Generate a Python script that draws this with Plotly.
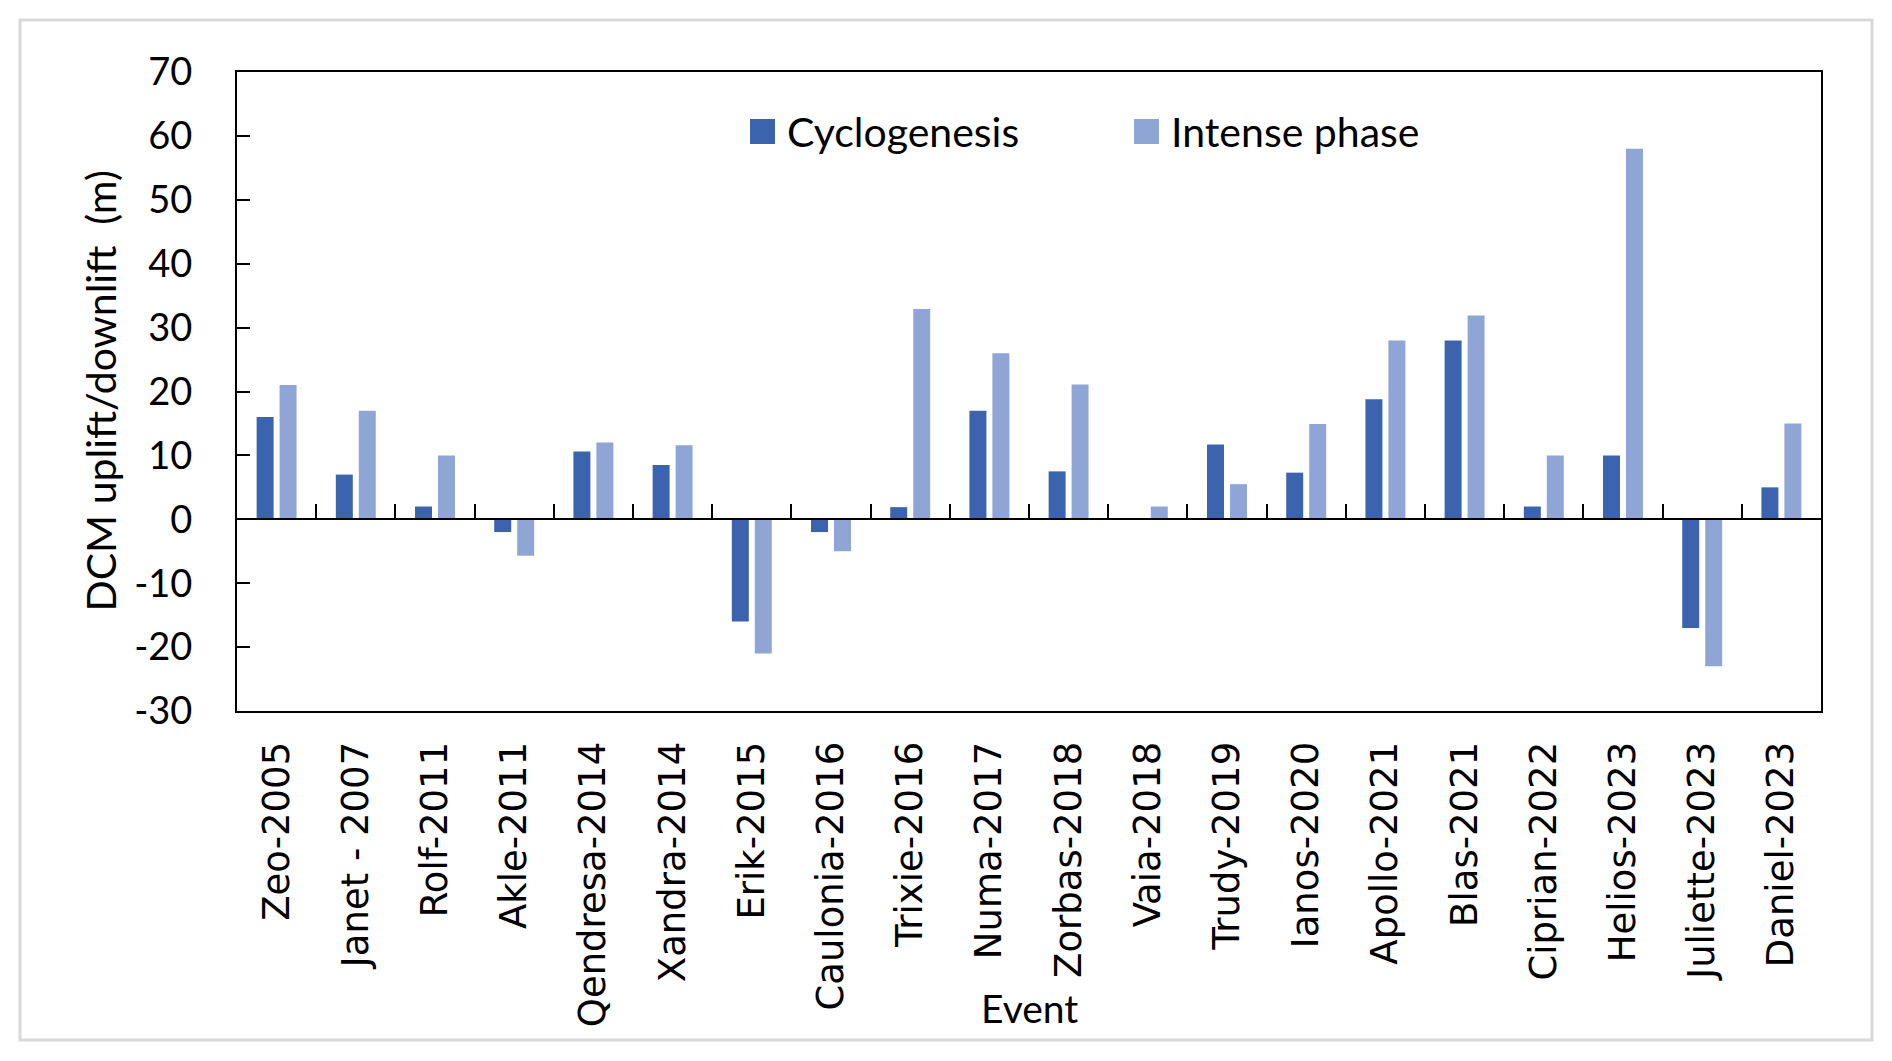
import plotly.graph_objects as go

events = ["Zeo-2005", "Janet - 2007", "Rolf-2011", "Akle-2011", "Qendresa-2014",
          "Xandra-2014", "Erik-2015", "Caulonia-2016", "Trixie-2016", "Numa-2017",
          "Zorbas-2018", "Vaia-2018", "Trudy-2019", "Ianos-2020", "Apollo-2021",
          "Blas-2021", "Ciprian-2022", "Helios-2023", "Juliette-2023", "Daniel-2023"]
cyclogenesis = [16, 7, 2, -2, 10.6, 8.5, -16, -2, 1.9, 17, 7.5, 0, 11.7, 7.3, 18.8,
                28, 2, 10, -17, 5]
intense = [21, 17, 10, -5.7, 12, 11.6, -21, -5, 32.9, 26, 21.1, 2, 5.5, 14.9, 28,
           31.9, 10, 58, -23, 15]
y_ticks = list(range(-30, 71, 10))
y_ticktext = [str(v) for v in y_ticks]

W, H = 1892, 1061
ML, MR, MT, MB = 237, 71, 72, 350
PW, PH = W - ML - MR, H - MT - MB


def px(x):
    return (x - ML) / PW


def py(y):
    return (H - MB - y) / PH


C1 = "#3C64AE"
C2 = "#8EA5D6"
FONT = "Lato"

fig = go.Figure()
fig.add_trace(go.Bar(x=events, y=cyclogenesis, name="Cyclogenesis",
                     marker=dict(color=C1, line=dict(width=0)), showlegend=False))
fig.add_trace(go.Bar(x=events, y=intense, name="Intense phase",
                     marker=dict(color=C2, line=dict(width=0)), showlegend=False))
# invisible helper trace for the zero-line tick axis
fig.add_trace(go.Scatter(x=list(range(len(events))), y=[0] * len(events), xaxis="x2",
                         mode="markers", marker=dict(opacity=0), hoverinfo="skip",
                         showlegend=False))

shapes = [
    dict(type="rect", xref="paper", yref="paper", x0=px(20), x1=px(1872),
         y0=py(1040), y1=py(20), line=dict(color="#d9d9d9", width=3), layer="below"),
    dict(type="rect", xref="paper", yref="paper", x0=px(750), x1=px(775),
         y0=py(144), y1=py(119), fillcolor=C1, line=dict(width=0)),
    dict(type="rect", xref="paper", yref="paper", x0=px(1134), x1=px(1159),
         y0=py(144), y1=py(119), fillcolor=C2, line=dict(width=0)),
]
annotations = [
    dict(text="Cyclogenesis", xref="paper", yref="paper", x=px(785), y=py(131),
         xanchor="left", yanchor="middle", showarrow=False,
         font=dict(family=FONT, size=41, color="black")),
    dict(text="Intense phase", xref="paper", yref="paper", x=px(1169), y=py(131),
         xanchor="left", yanchor="middle", showarrow=False,
         font=dict(family=FONT, size=41, color="black")),
    dict(text="DCM uplift/downlift  (m)", xref="paper", yref="paper", x=px(100), y=0.5,
         xanchor="center", yanchor="middle", textangle=-90, showarrow=False,
         font=dict(family=FONT, size=41, color="black")),
    dict(text="Event", xref="paper", yref="paper", x=0.5, y=py(1008),
         xanchor="center", yanchor="middle", showarrow=False,
         font=dict(family=FONT, size=39, color="black")),
]

fig.update_layout(
    width=W, height=H,
    margin=dict(l=ML, r=MR, t=MT, b=MB, autoexpand=False),
    paper_bgcolor="white", plot_bgcolor="white",
    barmode="group", bargap=0.42, bargroupgap=0.26,
    shapes=shapes, annotations=annotations,
    showlegend=False,
    xaxis=dict(type="category", categoryorder="array", categoryarray=events,
               showline=True, mirror=True, linecolor="black", linewidth=2,
               ticks="", tickangle=-90, ticklabelstandoff=14,
               tickfont=dict(family="DejaVu Sans", size=37, color="black"),
               showgrid=False, zeroline=False, automargin=False),
    xaxis2=dict(overlaying="x", anchor="free", position=0.3, range=[-0.5, len(events) - 0.5],
                showline=True, linecolor="black", linewidth=2,
                ticks="inside", ticklen=14, tickwidth=2, tickcolor="black",
                tickvals=[i + 0.5 for i in range(len(events) - 1)],
                showticklabels=False, showgrid=False, zeroline=False),
    yaxis=dict(range=[-30, 70], tickvals=y_ticks, ticktext=y_ticktext,
               showline=True, mirror=True,
               linecolor="black", linewidth=2, ticks="inside", ticklen=13, tickwidth=2,
               tickcolor="black", ticklabelstandoff=35,
               tickfont=dict(family=FONT, size=38, color="black"),
               showgrid=False, zeroline=False, automargin=False),
)

fig.write_html("out.html", config={"displayModeBar": False},
               post_script="document.body.style.margin='0px';")
